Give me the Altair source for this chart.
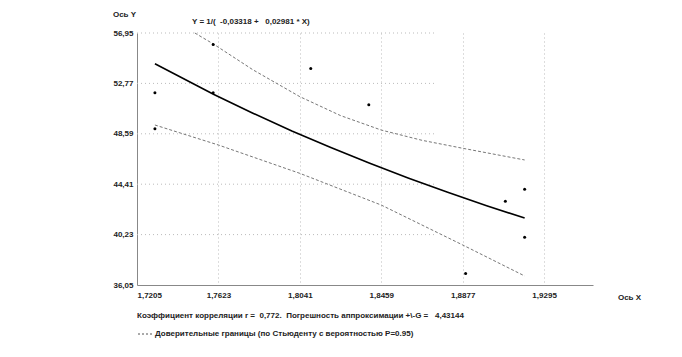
import altair as alt
import pandas as pd

# Observed points
X_PTS = [1.7297, 1.7297, 1.7596, 1.7596, 1.8097, 1.8395, 1.8892, 1.9096, 1.9195, 1.9195]
Y_PTS = [52.0, 49.0, 56.0, 52.0, 54.0, 51.0, 37.0, 43.0, 44.0, 40.0]

# Fitted curve Y = 1/(-0.03318 + 0.02981*X)
FIT_X = [1.7297, 1.7600, 1.7800, 1.8000, 1.8200, 1.8400, 1.8600, 1.8800, 1.9000, 1.9195]
FIT_Y = [54.40, 51.85, 50.30, 48.83, 47.45, 46.15, 44.91, 43.74, 42.63, 41.60]

# Confidence bounds (Student, P=0.95)
UP_X = [1.7502, 1.7596, 1.7800, 1.8041, 1.8250, 1.8459, 1.8668, 1.8877, 1.9195]
UP_Y = [56.95, 56.05, 53.90, 51.67, 50.10, 48.90, 48.05, 47.39, 46.42]
LO_X = [1.7297, 1.7623, 1.8041, 1.8459, 1.8877, 1.9195]
LO_Y = [49.32, 47.66, 45.31, 42.68, 39.37, 36.80]

X_TICKS = [1.7205, 1.7623, 1.8041, 1.8459, 1.8877, 1.9295]
Y_TICKS = [36.05, 40.23, 44.41, 48.59, 52.77, 56.95]
X_DOMAIN = [1.7205, 1.9546]
Y_DOMAIN = [36.05, 56.95]
HGRID_END = 1.8744

TITLE = "Y = 1/(\u00a0\u00a0-0,03318 +\u00a0\u00a0\u00a00,02981 * X)"
LINE1 = "Коэффициент корреляции r =\u00a0\u00a00,772.\u00a0\u00a0Погрешность аппроксимации +\\-G =\u00a0\u00a0\u00a04,43144"
LINE2 = "Доверительные границы (по Стьюденту с вероятностью P=0.95)"

FONT = "Liberation Sans"

pts = pd.DataFrame({"x": X_PTS, "y": Y_PTS})
fit = pd.DataFrame({"x": FIT_X, "y": FIT_Y})
up = pd.DataFrame({"x": UP_X, "y": UP_Y})
lo = pd.DataFrame({"x": LO_X, "y": LO_Y})
hgrid = pd.DataFrame({"y": Y_TICKS[1:], "x": [X_DOMAIN[0]] * 5, "x2": [HGRID_END] * 5})
one = pd.DataFrame({"a": [0]})

xscale = alt.Scale(domain=X_DOMAIN, nice=False, zero=False)
yscale = alt.Scale(domain=Y_DOMAIN, nice=False, zero=False)

xaxis = alt.Axis(
    values=X_TICKS,
    labelExpr="replace(format(datum.value, '.4f'), '.', ',')",
    labelFont=FONT, labelFontSize=8, labelFontWeight="bold", labelColor="#222",
    labelPadding=6, ticks=False, domainColor="#888",
    grid=True, gridColor="#bbb", gridDash=[1, 3],
    title="Ось X", titleFont=FONT, titleFontSize=8, titleFontWeight="bold", titleColor="#222",
    titleX=492, titleY=12, titleAlign="center", titleBaseline="middle",
)
yaxis = alt.Axis(
    values=Y_TICKS,
    labelExpr="replace(format(datum.value, '.2f'), '.', ',')",
    labelFont=FONT, labelFontSize=8, labelFontWeight="bold", labelColor="#222",
    labelPadding=4, ticks=False, domainColor="#888", grid=False,
    title="Ось Y", titleFont=FONT, titleFontSize=8, titleFontWeight="bold", titleColor="#222",
    titleAngle=0, titleX=-13, titleY=-19, titleAlign="center", titleBaseline="middle",
)

base_x = alt.X("x:Q", scale=xscale, axis=xaxis)
base_y = alt.Y("y:Q", scale=yscale, axis=yaxis)

grid_layer = alt.Chart(hgrid).mark_rule(color="#bbb", strokeDash=[1, 3], strokeWidth=1).encode(
    x=alt.X("x:Q", scale=xscale, axis=xaxis), x2="x2:Q", y=alt.Y("y:Q", scale=yscale, axis=yaxis)
)

up_layer = alt.Chart(up).mark_line(color="#777", strokeDash=[3, 2], strokeWidth=1).encode(x=base_x, y=base_y)
lo_layer = alt.Chart(lo).mark_line(color="#777", strokeDash=[3, 2], strokeWidth=1).encode(x=base_x, y=base_y)
fit_layer = alt.Chart(fit).mark_line(color="black", strokeWidth=1.6).encode(x=base_x, y=base_y)
pt_layer = alt.Chart(pts).mark_circle(color="black", size=9, opacity=1).encode(x=base_x, y=base_y)

txt = dict(font=FONT, fontSize=8, fontWeight="bold", color="#222", baseline="middle", align="left")
title_layer = alt.Chart(one).mark_text(**txt).encode(x=alt.value(55), y=alt.value(-11), text=alt.value(TITLE))
l1_layer = alt.Chart(one).mark_text(**txt).encode(x=alt.value(0), y=alt.value(283), text=alt.value(LINE1))
l2_layer = alt.Chart(one).mark_text(**txt).encode(x=alt.value(18), y=alt.value(301), text=alt.value(LINE2))
l2_rule = alt.Chart(one).mark_rule(color="#555", strokeDash=[2, 2], strokeWidth=1).encode(
    x=alt.value(1), x2=alt.value(15), y=alt.value(301)
)

chart = alt.layer(
    grid_layer, up_layer, lo_layer, fit_layer, pt_layer,
    title_layer, l1_layer, l2_rule, l2_layer,
).properties(
    width=456, height=252,
    autosize=alt.AutoSizeParams(type="none"),
    padding={"left": 137, "top": 33, "right": 89, "bottom": 72},
    background="white",
).configure_view(stroke=None)

chart.save("out.html", embed_options={"renderer": "svg", "actions": False})
